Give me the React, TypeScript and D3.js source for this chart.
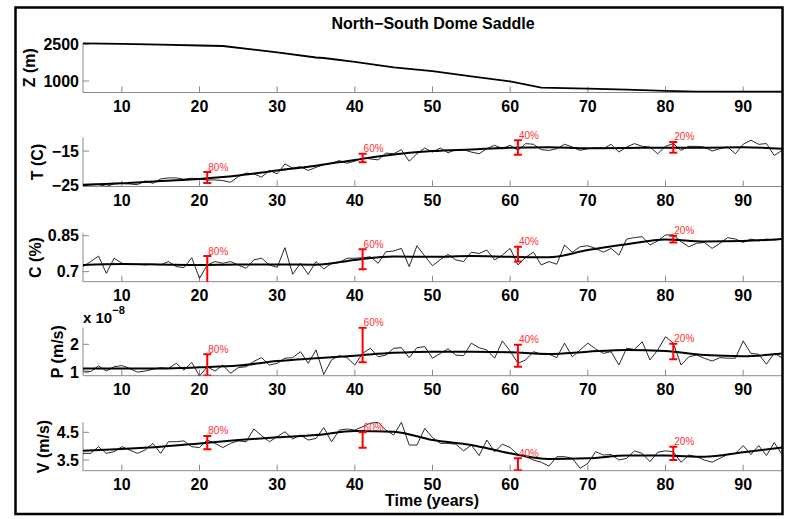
import React from 'react'
import * as d3 from 'd3'

// yearly samples run from year 5 to year 95
const firstYear = 5

const zYears = [5, 10, 15, 20, 23, 30, 35, 36, 40, 45, 50, 55, 60, 64, 70, 75, 80, 84, 90, 95]
const zElev = [2540, 2520, 2490, 2450, 2430, 2170, 1960, 1940, 1780, 1560, 1400, 1190, 980, 730, 690, 650, 600, 565, 560, 560]

const tNoisy = [
  -25.2, -25.0, -24.9, -25.4, -24.7, -24.5, -24.7, -24.9, -23.8, -24.5,
  -23.2, -22.9, -22.9, -23.3, -23.0, -23.2, -23.5, -23.5, -23.7, -24.2,
  -22.5, -21.5, -21.7, -22.7, -20.7, -21.7, -18.8, -20.0, -19.6, -20.7,
  -19.8, -19.0, -18.6, -17.8, -18.6, -18.0, -17.0, -17.3, -17.6, -15.6,
  -15.8, -14.6, -18.0, -15.8, -14.1, -15.3, -14.1, -15.5, -14.6, -14.6,
  -15.3, -15.8, -14.3, -13.3, -14.3, -13.3, -14.8, -12.8, -13.0, -14.6,
  -14.8, -14.3, -13.0, -13.8, -14.8, -14.3, -14.0, -14.3, -13.0, -15.3,
  -13.8, -12.8, -13.6, -13.8, -15.8, -13.6, -12.8, -14.8, -13.6, -13.6,
  -13.8, -15.0, -14.3, -13.8, -15.8, -13.0, -11.8, -13.0, -12.8, -16.3,
  -14.8
]
const cNoisy = [
  0.721, 0.742, 0.765, 0.693, 0.756, 0.735, 0.731, 0.731, 0.728, 0.731,
  0.728, 0.742, 0.721, 0.717, 0.758, 0.672, 0.728, 0.742, 0.735, 0.742,
  0.728, 0.714, 0.749, 0.756, 0.728, 0.718, 0.800, 0.689, 0.735, 0.689,
  0.742, 0.711, 0.735, 0.738, 0.756, 0.756, 0.758, 0.762, 0.735, 0.783,
  0.786, 0.797, 0.721, 0.808, 0.765, 0.725, 0.750, 0.772, 0.749, 0.742,
  0.781, 0.776, 0.790, 0.749, 0.769, 0.797, 0.728, 0.760, 0.781, 0.728,
  0.742, 0.731, 0.811, 0.781, 0.804, 0.808, 0.797, 0.781, 0.797, 0.769,
  0.836, 0.842, 0.846, 0.811, 0.828, 0.853, 0.853, 0.825, 0.804, 0.818,
  0.822, 0.797, 0.818, 0.842, 0.836, 0.822, 0.836, 0.828, 0.836, 0.832,
  0.836
]
const pNoisy = [
  1.06, 1.04, 1.24, 1.06, 1.21, 1.25, 1.15, 1.02, 1.06, 1.12,
  1.18, 1.15, 1.33, 1.09, 1.36, 0.89, 1.21, 1.06, 1.27, 0.98,
  1.18, 1.21, 1.40, 1.53, 1.27, 1.33, 1.51, 1.53, 1.74, 1.33,
  1.80, 0.94, 1.45, 1.60, 1.53, 1.27, 1.68, 1.86, 1.56, 1.62,
  1.86, 1.88, 1.53, 1.88, 1.92, 1.51, 1.68, 1.84, 1.62, 1.60,
  2.04, 1.88, 1.80, 1.51, 2.12, 1.76, 1.33, 1.45, 1.74, 1.65,
  1.65, 1.53, 2.04, 1.56, 1.80, 2.04, 1.84, 1.68, 1.74, 1.27,
  1.86, 1.82, 2.09, 1.45, 1.80, 2.27, 2.04, 1.27, 1.56, 1.62,
  1.51, 1.41, 1.53, 1.51, 1.51, 2.12, 1.68, 1.65, 1.30, 1.68,
  1.53
]
const vNoisy = [
  3.74, 3.74, 3.98, 3.74, 3.80, 3.98, 3.86, 3.74, 3.86, 4.10,
  3.74, 4.16, 4.16, 4.19, 3.98, 3.95, 4.22, 4.10, 3.95, 4.10,
  4.19, 4.16, 4.62, 4.38, 4.16, 4.34, 4.52, 4.26, 4.40, 4.22,
  4.28, 4.67, 4.16, 4.58, 4.62, 4.58, 4.70, 4.83, 4.86, 4.58,
  4.40, 4.86, 4.04, 4.04, 4.64, 4.31, 4.10, 4.10, 4.07, 3.83,
  4.04, 3.66, 4.22, 3.80, 4.07, 3.95, 3.70, 3.62, 3.50, 3.42,
  3.28, 3.62, 3.62, 3.56, 3.20, 3.38, 3.80, 3.68, 3.70, 3.50,
  3.56, 3.83, 3.74, 3.44, 3.78, 3.83, 3.80, 3.42, 3.68, 3.62,
  3.50, 3.42, 3.56, 3.70, 3.74, 4.02, 3.70, 4.02, 3.66, 4.13,
  3.70
]

const smoothYears = [5, 10, 15, 20, 25, 30, 35, 40, 45, 50, 55, 60, 65, 70, 75, 80, 85, 90, 95]
const tSmooth = [-24.9, -24.5, -23.8, -23.2, -22.2, -20.7, -19.3, -17.6, -16.0, -15.0, -14.5, -14.0, -13.9, -14.2, -14.1, -14.0, -14.0, -13.9, -14.3]
const cSmooth = [0.728, 0.732, 0.730, 0.728, 0.730, 0.730, 0.729, 0.749, 0.763, 0.762, 0.765, 0.762, 0.760, 0.790, 0.814, 0.834, 0.826, 0.828, 0.836]
const pSmooth = [1.15, 1.15, 1.15, 1.19, 1.25, 1.41, 1.51, 1.60, 1.70, 1.74, 1.74, 1.72, 1.66, 1.74, 1.80, 1.76, 1.62, 1.58, 1.68]
const vSmooth = [3.83, 3.90, 3.98, 4.10, 4.22, 4.32, 4.40, 4.55, 4.52, 4.22, 4.04, 3.74, 3.54, 3.56, 3.66, 3.66, 3.62, 3.78, 3.95]

const barYears = [21, 41, 61, 81]
const barLabels = ['80%', '60%', '40%', '20%']
const tBars = [[-24.4, -21.2], [-18.3, -15.8], [-16.1, -11.8], [-15.5, -12.3]]
const cBars = [[0.64, 0.765], [0.71, 0.793], [0.742, 0.804], [0.822, 0.85]]
const pBars = [[0.9, 1.65], [1.37, 2.58], [1.21, 1.98], [1.47, 2.02]]
const vBars = [[3.89, 4.37], [3.94, 4.5], [3.13, 3.56], [3.5, 3.98]]

const xTicks = [10, 20, 30, 40, 50, 60, 70, 80, 90]

const FONT = '"Liberation Sans", Arial, Helvetica, sans-serif'
const AXIS = '#8a8a8a'

const x = d3.scaleLinear().domain([5, 95]).range([83, 782])

type Panel = {
  id: string
  label: string
  labelX: number
  top: number
  bottom: number
  domain: [number, number]
  ticks: number[]
  tickText: string[]
  noisy?: number[]
  smooth?: number[]
  bars?: number[][]
}

const panels: Panel[] = [
  { id: 'z', label: 'Z (m)', labelX: 29, top: 43, bottom: 92.5, domain: [530, 2553], ticks: [1000, 2500], tickText: ['1000', '2500'] },
  { id: 't', label: 'T (C)', labelX: 37, top: 137.5, bottom: 186.5, domain: [-25.44, -11.0], ticks: [-25, -15], tickText: ['\u221225', '\u221215'], noisy: tNoisy, smooth: tSmooth, bars: tBars },
  { id: 'c', label: 'C (%)', labelX: 35, top: 233.3, bottom: 281.7, domain: [0.658, 0.86], ticks: [0.7, 0.85], tickText: ['0.7', '0.85'], noisy: cNoisy, smooth: cSmooth, bars: cBars },
  { id: 'p', label: 'P (m/s)', labelX: 57, top: 327.7, bottom: 375.7, domain: [0.894, 2.585], ticks: [1, 2], tickText: ['1', '2'], noisy: pNoisy, smooth: pSmooth, bars: pBars },
  { id: 'v', label: 'V (m/s)', labelX: 43, top: 422.3, bottom: 470.7, domain: [3.114, 4.861], ticks: [3.5, 4.5], tickText: ['3.5', '4.5'], noisy: vNoisy, smooth: vSmooth, bars: vBars },
]

function PanelView({ p }: { p: Panel }) {
  const y = d3.scaleLinear().domain(p.domain).range([p.bottom, p.top])
  const [x0, x1] = x.range()
  const noisyLine = d3.line<number>().x((_, i) => x(firstYear + i)).y((d) => y(d))
  const smoothLine = d3.line<number>().x((_, i) => x(smoothYears[i])).y((d) => y(d)).curve(d3.curveMonotoneX)
  const zLine = d3.line<number>().x((_, i) => x(zYears[i])).y((d) => y(d))
  const clip = `clip-${p.id}`

  return (
    <g>
      <defs>
        <clipPath id={clip}>
          <rect x={x0} y={p.top - 1} width={x1 - x0} height={p.bottom - p.top + 1} />
        </clipPath>
      </defs>

      {/* axes: left + bottom only, ticks inside */}
      <line x1={x0} x2={x0} y1={p.top} y2={p.bottom} stroke={AXIS} strokeWidth={1} />
      <line x1={x0} x2={x1} y1={p.bottom} y2={p.bottom} stroke={AXIS} strokeWidth={1} />
      {xTicks.map((t) => (
        <g key={t}>
          <line x1={x(t)} x2={x(t)} y1={p.bottom} y2={p.bottom - 6} stroke={AXIS} />
          <text x={x(t)} y={p.bottom + 19.5} textAnchor="middle" fontSize={16} fontWeight="bold" fontFamily={FONT}>{t}</text>
        </g>
      ))}
      {p.ticks.map((t, i) => (
        <g key={t}>
          <line x1={x0} x2={x0 + 6} y1={y(t)} y2={y(t)} stroke={AXIS} />
          <text x={x0 - 4} y={y(t)} dy="0.36em" textAnchor="end" fontSize={16} fontWeight="bold" fontFamily={FONT}>{p.tickText[i]}</text>
        </g>
      ))}
      <text
        transform={`translate(${p.labelX},${(p.top + p.bottom) / 2}) rotate(-90)`}
        textAnchor="middle" dy="0.36em" fontSize={16} fontWeight="bold" fontFamily={FONT}
      >{p.label}</text>

      <g clipPath={`url(#${clip})`}>
        {p.id === 'z' && <path d={zLine(zElev) ?? ''} fill="none" stroke="#000" strokeWidth={1.8} />}
        {p.noisy && <path d={noisyLine(p.noisy) ?? ''} fill="none" stroke="#111" strokeWidth={0.9} />}
        {p.smooth && <path d={smoothLine(p.smooth) ?? ''} fill="none" stroke="#000" strokeWidth={2} />}
        {p.bars && p.bars.map(([lo, hi], i) => {
          const bx = x(barYears[i])
          return (
            <g key={i} stroke="#ff0000" strokeWidth={2}>
              <line x1={bx} x2={bx} y1={y(lo)} y2={y(hi)} />
              <line x1={bx - 4} x2={bx + 4} y1={y(lo)} y2={y(lo)} />
              <line x1={bx - 4} x2={bx + 4} y1={y(hi)} y2={y(hi)} />
            </g>
          )
        })}
      </g>
      {p.bars && p.bars.map(([, hi], i) => (
        <text key={i} x={x(barYears[i]) + 1} y={y(hi) - 1.5} fontSize={10} fill="#ff3030" fontFamily={FONT}>{barLabels[i]}</text>
      ))}
    </g>
  )
}

export default function App() {
  return (
    <svg width={788} height={519} style={{ position: 'absolute', left: 0, top: 0, background: '#fff' }}>
      <rect x={0} y={0} width={788} height={519} fill="#fff" />
      <text x={433} y={29} textAnchor="middle" fontSize={16} fontWeight="bold" fontFamily={FONT}>North{'\u2212'}South Dome Saddle</text>
      {panels.map((p) => <PanelView key={p.id} p={p} />)}
      <text x={83} y={323} fontSize={15} fontWeight="bold" fontFamily={FONT}>
        x 10<tspan dy={-9} fontSize={11}>{'\u2212'}8</tspan>
      </text>
      <text x={432} y={506} textAnchor="middle" fontSize={16} fontWeight="bold" fontFamily={FONT}>Time (years)</text>
      <rect x={15.5} y={7.5} width={767} height={506.5} fill="none" stroke="#000" strokeWidth={2.5} />
    </svg>
  )
}
